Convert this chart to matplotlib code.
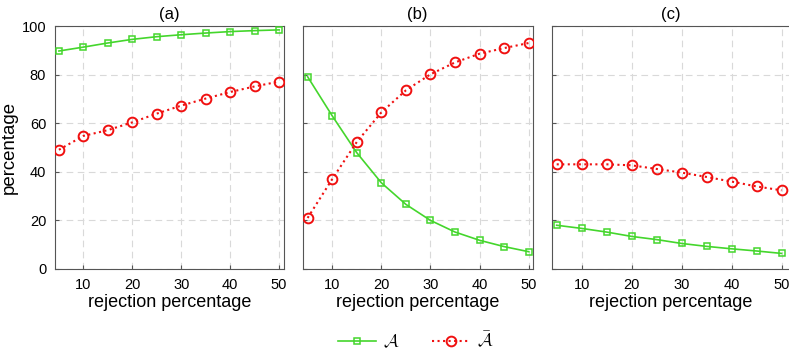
import matplotlib
matplotlib.use("Agg")
import matplotlib.pyplot as plt
from matplotlib.lines import Line2D

plt.rcParams['font.family'] = ['Liberation Sans', 'DejaVu Sans']
plt.rcParams['mathtext.fontset'] = 'cm'

rejection = [5, 10, 15, 20, 25, 30, 35, 40, 45, 50]

a_A = [89.7, 91.3, 93.0, 94.5, 95.6, 96.4, 97.1, 97.7, 98.1, 98.4]
a_Abar = [49.0, 54.7, 57.1, 60.3, 63.9, 67.2, 70.1, 72.8, 75.1, 77.1]

b_A = [79.1, 63.0, 47.8, 35.4, 26.5, 19.9, 15.1, 11.7, 9.1, 7.0]
b_Abar = [20.9, 36.9, 52.2, 64.4, 73.5, 80.1, 85.0, 88.6, 90.9, 93.0]

c_A = [17.9, 16.6, 15.1, 13.3, 12.0, 10.4, 9.2, 8.2, 7.3, 6.3]
c_Abar = [43.0, 43.0, 43.0, 42.6, 41.1, 39.6, 37.8, 35.9, 33.9, 32.3]

titles = ['(a)', '(b)', '(c)']
xticks = [10, 20, 30, 40, 50]
yticks = [0, 20, 40, 60, 80, 100]
label_A = r'$\mathcal{A}$'
label_Abar = r'$\bar{\mathcal{A}}$'

green = '#44d62c'
red = '#f01010'

W, H = 789, 361
fig = plt.figure(figsize=(W / 100, H / 100), dpi=100)

rects = [
    (54.5, 284.0, (4.1, 51.0)),
    (302.7, 532.7, (4.0, 50.8)),
    (551.7, 789.5, (4.0, 51.6)),
]
top_px, bot_px = 26.0, 268.7

sq = dict(marker='s', ms=5, mfc='none', mec=green, mew=1.1)
ci = dict(marker='o', ms=7, mfc='none', mec=red, mew=1.4)

data = [(a_A, a_Abar), (b_A, b_Abar), (c_A, c_Abar)]
for i, ((l, r, xl), (sA, sB)) in enumerate(zip(rects, data)):
    ax = fig.add_axes([l / W, 1 - bot_px / H, (r - l) / W, (bot_px - top_px) / H])
    ax.plot(rejection, sA, '-', color=green, lw=1.2, zorder=3, **sq)
    ax.plot(rejection, sB, ':', color=red, lw=1.5, zorder=3, **ci)
    ax.set_xlim(*xl)
    ax.set_ylim(0, 100)
    ax.set_xticks(xticks)
    ax.set_yticks(yticks)
    ax.grid(True, ls=(0, (6, 4)), color='#d9d9d9', lw=0.8)
    ax.set_axisbelow(True)
    ax.tick_params(direction='in', length=3, color='#555555', labelsize=10.5,
                   top=False, right=False)
    ax.tick_params(axis='x', pad=7)
    ax.tick_params(axis='y', pad=6)
    for s in ax.spines.values():
        s.set_color('#555555')
        s.set_linewidth(0.8)
    if i > 0:
        ax.set_yticklabels([])
    else:
        ax.set_ylabel('percentage', fontsize=13.4, labelpad=3)
    ax.set_xlabel('rejection percentage', fontsize=13, labelpad=1)
    ax.set_title(titles[i], fontsize=12, pad=5)

handles = [
    Line2D([], [], ls='-', color=green, lw=1.2, **sq),
    Line2D([], [], ls=':', color=red, lw=1.5, **ci),
]
fig.legend(handles, [label_A, label_Abar], loc='center', bbox_to_anchor=(416 / W, 1 - 341 / H),
           ncol=2, frameon=False, fontsize=13, handlelength=2.1, columnspacing=1.8,
           handletextpad=0.4)

fig.savefig('out.png', dpi=100)
